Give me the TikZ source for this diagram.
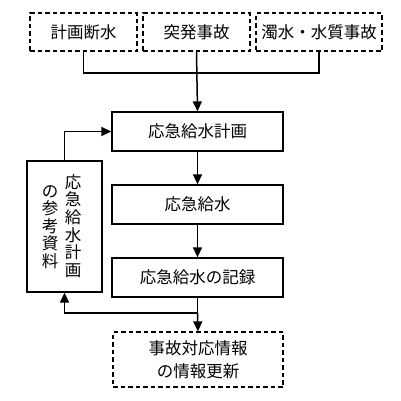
\documentclass[tikz,border=0pt]{standalone}
\usepackage{fontspec}
\newfontfamily\jpfont{Noto Sans CJK JP}
\usetikzlibrary{arrows.meta,positioning}

\tikzset{
  box/.style={draw,line width=1.3pt,minimum height=39pt,minimum width=171pt,
    inner sep=0pt,font=\jpfont\fontsize{16.5}{23}\selectfont},
  dbox/.style={box,dash pattern=on 4.5pt off 3pt},
  coltext/.style={inner sep=0pt,align=center,font=\jpfont\fontsize{16.5}{17.6}\selectfont},
  line/.style={line width=1.5pt},
  >={Triangle[length=10pt,width=9pt]}
}

\begin{document}
\begin{tikzpicture}[x=1pt,y=-1pt]
  \useasboundingbox (0,0) rectangle (401,400);
  % causes
  \node[dbox,minimum width=107pt,minimum height=38pt] (plancut) at (83.5,32) {計画断水};
  \node[dbox,minimum width=107pt,minimum height=38pt] (accident) at (196.5,32) {突発事故};
  \node[dbox,minimum width=126pt,minimum height=38pt] (turbid) at (319,32) {濁水・水質事故};
  \coordinate (join) at (196.5,73);
  \draw[line] (plancut.south) |- (join) -| (turbid.south);
  % main flow
  \node[box] (plan) at (197.5,131.5) {応急給水計画};
  \node[box] (supply) at (197.5,204.5) {応急給水};
  \node[box] (record) at (197.5,277.5) {応急給水の記録};
  \node[dbox,minimum width=170pt,minimum height=55pt,align=center] (update) at (198,359.5) {事故対応情報\\の情報更新};
  \draw[line,->] (accident.south) -- (plan.north);
  \draw[line,->] (plan) -- (supply);
  \draw[line,->] (supply) -- (record);
  % reference material
  \node[draw,line width=1.3pt,minimum width=75pt,minimum height=131pt] (refdoc) at (64.5,226.5) {};
  \node[coltext] (refcolA) at (73,226) {応\\急\\給\\水\\計\\画};
  \node[coltext] (refcolB) at (50,227) {の\\参\\考\\資\\料};
  \draw[line,->] (refdoc.north) |- (plan.west);
  \coordinate (split) at (197.5,313);
  \draw[line] (record.south) -- (split);
  \draw[line,->] (split) -| (refdoc.south);
  \draw[line,->] (split) -- (update.north);
\end{tikzpicture}
\end{document}
